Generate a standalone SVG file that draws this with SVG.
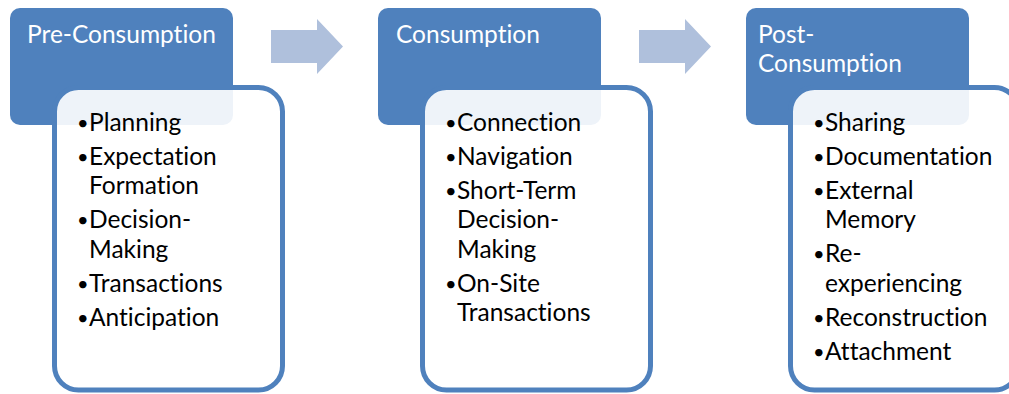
<svg xmlns="http://www.w3.org/2000/svg" width="1009" height="394" viewBox="0 0 1009 394">
  <style>
    .head { fill: #4F81BD; }
    .card { fill: #FFFFFF; fill-opacity: 0.9; stroke: #4F81BD; stroke-width: 5; }
    .arrow { fill: #AFC0DC; }
    .title, .item { font-family: Lato, "Liberation Sans", sans-serif; font-size: 24.5px; font-variant-ligatures: none; }
    .title { fill: #FFFFFF; }
    .item { fill: #000000; }
    .dot { font-size: 20px; }
  </style>
  <rect width="1009" height="394" fill="#FFFFFF"/>

  <g id="connectors">
    <path class="arrow" d="M271,30 H317 V19 L343,46.5 L317,74 V63 H271 Z"/>
    <path class="arrow" d="M639,30 H685 V19 L711,46.5 L685,74 V63 H639 Z"/>
  </g>

  <g id="pre-consumption">
    <rect class="head" x="10" y="8" width="223" height="117" rx="10"/>
    <text class="title" x="27" y="43">Pre-Consumption</text>
    <rect class="card" x="54.5" y="87.5" width="228" height="302.5" rx="24"/>
    <text class="item">
      <tspan class="dot" x="77" y="130">•</tspan><tspan x="89" y="131">Planning</tspan>
      <tspan class="dot" x="77" y="164">•</tspan><tspan x="89" y="165">Expectation</tspan>
      <tspan x="89" y="194">Formation</tspan>
      <tspan class="dot" x="77" y="227">•</tspan><tspan x="89" y="228">Decision-</tspan>
      <tspan x="89" y="258">Making</tspan>
      <tspan class="dot" x="77" y="291">•</tspan><tspan x="89" y="292">Transactions</tspan>
      <tspan class="dot" x="77" y="325">•</tspan><tspan x="89" y="326">Anticipation</tspan>
    </text>
  </g>

  <g id="consumption">
    <rect class="head" x="378" y="8" width="223" height="117" rx="10"/>
    <text class="title" x="396" y="43">Consumption</text>
    <rect class="card" x="422.5" y="87.5" width="228" height="302.5" rx="24"/>
    <text class="item">
      <tspan class="dot" x="445" y="130">•</tspan><tspan x="457" y="131">Connection</tspan>
      <tspan class="dot" x="445" y="164">•</tspan><tspan x="457" y="165">Navigation</tspan>
      <tspan class="dot" x="445" y="198">•</tspan><tspan x="457" y="199">Short-Term</tspan>
      <tspan x="457" y="228">Decision-</tspan>
      <tspan x="457" y="258">Making</tspan>
      <tspan class="dot" x="445" y="291">•</tspan><tspan x="457" y="292">On-Site</tspan>
      <tspan x="457" y="321">Transactions</tspan>
    </text>
  </g>

  <g id="post-consumption">
    <rect class="head" x="746" y="8" width="223" height="117" rx="10"/>
    <text class="title">
      <tspan x="758" y="43">Post-</tspan>
      <tspan x="758" y="72">Consumption</tspan>
    </text>
    <rect class="card" x="790.5" y="87.5" width="228" height="302.5" rx="24"/>
    <text class="item">
      <tspan class="dot" x="813" y="130">•</tspan><tspan x="825" y="131">Sharing</tspan>
      <tspan class="dot" x="813" y="164">•</tspan><tspan x="825" y="165">Documentation</tspan>
      <tspan class="dot" x="813" y="198">•</tspan><tspan x="825" y="199">External</tspan>
      <tspan x="825" y="228">Memory</tspan>
      <tspan class="dot" x="813" y="261">•</tspan><tspan x="825" y="262">Re-</tspan>
      <tspan x="825" y="292">experiencing</tspan>
      <tspan class="dot" x="813" y="325">•</tspan><tspan x="825" y="326">Reconstruction</tspan>
      <tspan class="dot" x="813" y="359">•</tspan><tspan x="825" y="360">Attachment</tspan>
    </text>
  </g>
</svg>
